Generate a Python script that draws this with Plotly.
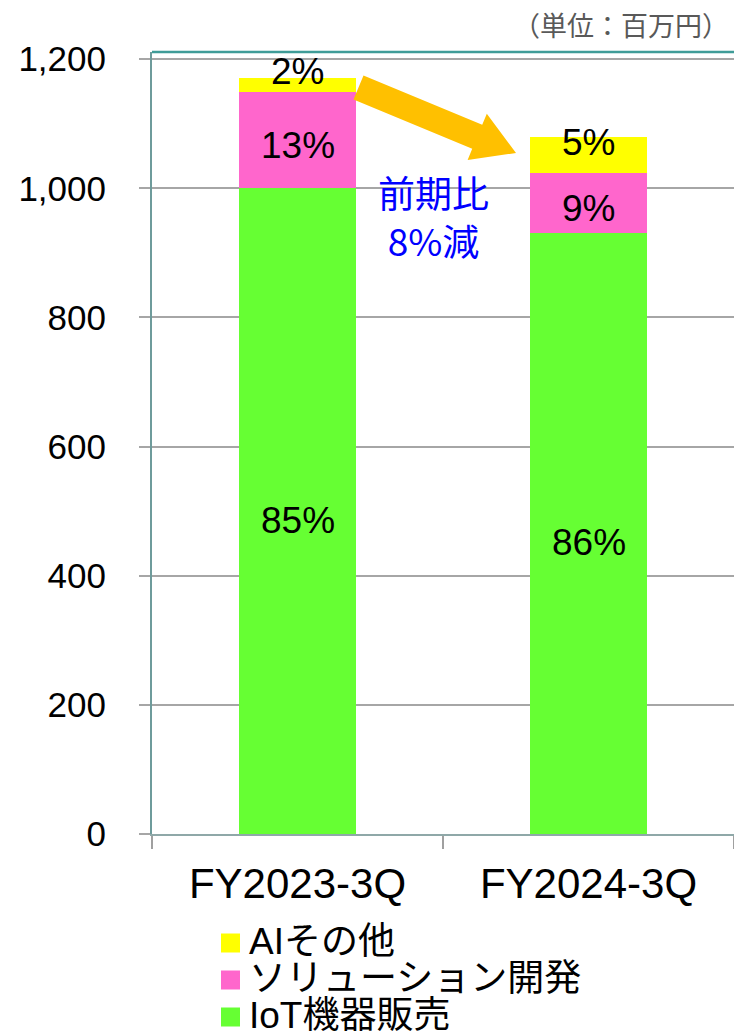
import plotly.graph_objects as go

# ---- data ----
categories = ["FY2023-3Q", "FY2024-3Q"]
iot_sales = [1000, 931]
solution_dev = [149, 92]
ai_other = [22, 56]
series_names = ["IoT機器販売", "ソリューション開発", "AIその他"]
y_ticks = [0, 200, 400, 600, 800, 1000, 1200]
unit_label = "（単位：百万円）"
change_label = "前期比<br>8%減"

# ---- layout constants ----
W, H = 734, 1031
ML, MR, MT, MB = 152, 0, 52, 197
YMAX = 1211
FONT = "Liberation Sans, Arial, Noto Sans CJK JP"
JFONT = "Noto Sans CJK JP, Liberation Sans"
colors = ["#66FF33", "#FF66CC", "#FFFF00"]
label_shift = [-9, -5, 13]

series = [iot_sales, solution_dev, ai_other]

fig = go.Figure()
for name, vals, col in zip(series_names, series, colors):
    fig.add_bar(x=categories, y=vals, name=name, width=0.4,
                marker=dict(color=col, line=dict(width=0)), showlegend=False,
                hoverinfo="skip")

totals = [sum(v) for v in zip(*series)]
base = [0] * len(categories)
for vals, sh in zip(series, label_shift):
    for i, c in enumerate(categories):
        mid = base[i] + vals[i] / 2
        pct = round(vals[i] / totals[i] * 100)
        fig.add_annotation(x=c, y=mid, text=f"{pct}%", showarrow=False,
                           xanchor="center", yanchor="middle", yshift=sh,
                           font=dict(family=FONT, size=37, color="black"))
    base = [b + v for b, v in zip(base, vals)]

pw, ph = W - ML - MR, H - MT - MB


def to_paper(px, py):
    return (px - ML) / pw, (H - MB - py) / ph


# ---- arrow (decoration) ----
tail = (358.5, 87.5)
tip = (516.0, 153.0)
hw, hh, hl = 13.0, 25.0, 42.0
dx, dy = tip[0] - tail[0], tip[1] - tail[1]
L = (dx ** 2 + dy ** 2) ** 0.5
ux, uy = dx / L, dy / L
pxv, pyv = uy, -ux
neck = (tip[0] - ux * hl, tip[1] - uy * hl)
pts = [
    (tail[0] + pxv * hw, tail[1] + pyv * hw),
    (neck[0] + pxv * hw, neck[1] + pyv * hw),
    (neck[0] + pxv * hh, neck[1] + pyv * hh),
    tip,
    (neck[0] - pxv * hh, neck[1] - pyv * hh),
    (neck[0] - pxv * hw, neck[1] - pyv * hw),
    (tail[0] - pxv * hw, tail[1] - pyv * hw),
]
pp = [to_paper(*p) for p in pts]
path = "M " + " L ".join(f"{x:.5f},{y:.5f}" for x, y in pp) + " Z"
fig.add_shape(type="path", xref="paper", yref="paper", path=path,
              fillcolor="#FFC000", line=dict(width=0), layer="above")

# top border of plot area
fig.add_shape(type="line", xref="paper", yref="paper", x0=0, x1=1, y0=1, y1=1,
              line=dict(color="#3F9C98", width=2.5))

# change label
cx, cy = to_paper(433, 216)
fig.add_annotation(xref="paper", yref="paper", x=cx, y=cy, text=change_label,
                   showarrow=False, align="center", xanchor="center", yanchor="middle",
                   font=dict(family=JFONT, size=37, color="#0000FF"))

# unit label
ux_, uy_ = to_paper(731, 24)
fig.add_annotation(xref="paper", yref="paper", x=ux_, y=uy_, text=unit_label,
                   showarrow=False, xanchor="right", yanchor="middle",
                   font=dict(family=JFONT, size=27, color="#595959"))

# manual legend (top row = last series)
leg_rows = [943, 980, 1017]
sq = 19
for row_y, idx in zip(leg_rows, [2, 1, 0]):
    x0, y0 = to_paper(221, row_y - sq / 2)
    x1, y1 = to_paper(221 + sq, row_y + sq / 2)
    fig.add_shape(type="rect", xref="paper", yref="paper", x0=x0, x1=x1, y0=y0, y1=y1,
                  fillcolor=colors[idx], line=dict(width=0))
    tx, ty = to_paper(247, row_y - 2)
    fig.add_annotation(xref="paper", yref="paper", x=tx, y=ty, text=series_names[idx],
                       showarrow=False, xanchor="left", yanchor="middle",
                       font=dict(family=FONT, size=37, color="black"))

fig.update_layout(
    width=W, height=H,
    margin=dict(l=ML, r=MR, t=MT, b=MB, pad=0),
    barmode="stack",
    plot_bgcolor="white", paper_bgcolor="white",
    showlegend=False,
    xaxis=dict(showline=True, linecolor="#8FA8A8", linewidth=2,
               ticks="outside", tickson="boundaries", ticklen=13,
               tickcolor="#A0A0A0", tickwidth=1.5,
               tickfont=dict(family=FONT, size=42, color="black"),
               ticklabelstandoff=12, showgrid=False),
    yaxis=dict(range=[0, YMAX], tickvals=y_ticks, tickformat=",d",
               showline=True, linecolor="#6E9B9B", linewidth=2,
               ticks="outside", ticklen=11, tickcolor="#A6A6A6", tickwidth=1.5,
               showgrid=True, gridcolor="#A6A6A6", gridwidth=1.5, zeroline=False,
               tickfont=dict(family=FONT, size=35, color="black"),
               ticklabelstandoff=26),
)

fig.write_html("out.html", config={"displayModeBar": False},
               post_script="document.body.style.margin='0';document.body.style.overflow='hidden';")
